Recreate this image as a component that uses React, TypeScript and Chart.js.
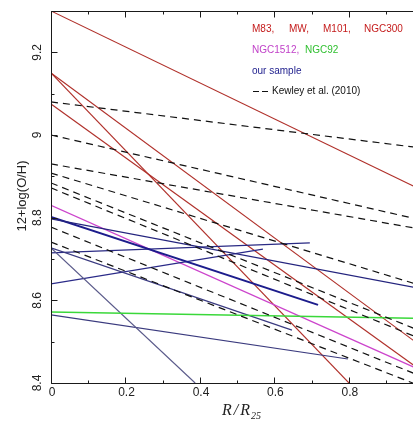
import React, { useEffect, useRef } from 'react';
import { Chart, registerables } from 'chart.js';
Chart.register(...registerables);

const X_TICKS = [0, 0.2, 0.4, 0.6, 0.8];
const X_TICK_LABELS = ['0', '0.2', '0.4', '0.6', '0.8'];
const Y_TICKS = [8.4, 8.6, 8.8, 9.0, 9.2];
const Y_TICK_LABELS = ['8.4', '8.6', '8.8', '9', '9.2'];

// M83, MW, M101, NGC300 (red)
const RED_X0 = [0, 0, 0, 0];
const RED_Y0 = [9.3, 9.15, 9.15, 9.075];
const RED_X1 = [1, 0.8, 1, 1];
const RED_Y1 = [8.865, 8.4, 8.485, 8.426];

// NGC1512 (magenta), NGC92 (green)
const MAGENTA_X = [0, 1];
const MAGENTA_Y = [8.83, 8.428];
const GREEN_X = [0, 1];
const GREEN_Y = [8.572, 8.556];

// our sample (blue)
const BLUE_X0 = [0, 0, 0, 0, 0, 0, 0];
const BLUE_Y0 = [8.797, 8.802, 8.727, 8.727, 8.715, 8.64, 8.565];
const BLUE_X1 = [1, 0.717, 0.647, 0.387, 0.695, 0.569, 0.797];
const BLUE_Y1 = [8.627, 8.589, 8.528, 8.4, 8.739, 8.724, 8.458];
const BLUE_COLORS = ['#24247e', '#1c1c8c', '#3a3a80', '#5a5a8a', '#2a2a84', '#2a2a88', '#3a3a7e'];
const BLUE_WIDTHS = [1.2, 2, 1.2, 1.2, 1.2, 1.2, 1.2];

// Kewley et al. (2010) (dashed black), from R=0 to R=1
const KEWLEY_Y0 = [9.08, 9.0, 8.93, 8.908, 8.884, 8.872, 8.777, 8.741];
const KEWLEY_Y1 = [8.968, 8.793, 8.771, 8.634, 8.523, 8.504, 8.414, 8.39];

const X_MIN = 0;
const X_MAX = 0.972;
const Y_MIN = 8.4;
const Y_MAX = 9.3;

function seg(x0: number, y0: number, x1: number, y1: number) {
  return [{ x: x0, y: y0 }, { x: x1, y: y1 }];
}

const framePlugin = {
  id: 'frame',
  afterDraw(chart: any) {
    const ctx = chart.ctx as CanvasRenderingContext2D;
    const { left, right, top, bottom } = chart.chartArea;
    const xs = chart.scales.x;
    const ys = chart.scales.y;
    ctx.save();
    ctx.strokeStyle = '#1a1a1a';
    ctx.lineWidth = 1;
    const L = Math.round(left) + 0.5;
    const B = Math.round(bottom) + 0.5;
    const T = Math.round(top) + 0.5;
    ctx.beginPath();
    ctx.moveTo(L, T);
    ctx.lineTo(L, B);
    ctx.lineTo(right, B);
    ctx.moveTo(L, T);
    ctx.lineTo(right, T);
    for (let i = 0; i <= 9; i++) {
      const v = Y_MIN + i * 0.1;
      const py = Math.round(ys.getPixelForValue(v)) + 0.5;
      const len = i % 2 === 0 ? 6 : 3;
      ctx.moveTo(L, py);
      ctx.lineTo(L + len, py);
    }
    for (let i = 0; i <= 9; i++) {
      const v = i * 0.1;
      if (v > X_MAX) break;
      const px = Math.round(xs.getPixelForValue(v)) + 0.5;
      const len = i % 2 === 0 ? 6 : 3;
      ctx.moveTo(px, B);
      ctx.lineTo(px, B - len);
      ctx.moveTo(px, T);
      ctx.lineTo(px, T + len);
    }
    ctx.stroke();

    ctx.fillStyle = '#222';
    ctx.font = '12px "Liberation Sans", Arial, sans-serif';
    ctx.textAlign = 'center';
    ctx.textBaseline = 'middle';
    X_TICKS.forEach((v, i) => {
      ctx.fillText(X_TICK_LABELS[i], xs.getPixelForValue(v) + 1, 393);
    });
    Y_TICKS.forEach((v, i) => {
      ctx.save();
      ctx.translate(38, ys.getPixelForValue(v));
      ctx.rotate(-Math.PI / 2);
      ctx.fillText(Y_TICK_LABELS[i], 0, 0);
      ctx.restore();
    });

    ctx.save();
    ctx.font = '13px "Liberation Sans", Arial, sans-serif';
    ctx.translate(22, 196);
    ctx.rotate(-Math.PI / 2);
    ctx.fillText('12+log(O/H)', 0, 0);
    ctx.restore();

    ctx.textAlign = 'left';
    ctx.textBaseline = 'alphabetic';
    ctx.font = 'italic 16px "Liberation Serif", "Times New Roman", serif';
    (ctx as any).letterSpacing = '2px';
    ctx.fillText('R/R', 222, 415);
    const w = ctx.measureText('R/R').width;
    ctx.font = 'italic 10px "Liberation Serif", "Times New Roman", serif';
    (ctx as any).letterSpacing = '0px';
    ctx.fillText('25', 222 + w - 1, 419);

    ctx.font = '10px "Liberation Sans", Arial, sans-serif';
    ctx.textBaseline = 'middle';
    ctx.fillStyle = '#c41a1a';
    ctx.fillText('M83,', 252, 29);
    ctx.fillText('MW,', 289, 29);
    ctx.fillText('M101,', 323, 29);
    ctx.fillText('NGC300', 364, 29);
    ctx.fillStyle = '#c040c8';
    ctx.fillText('NGC1512,', 252, 50);
    ctx.fillStyle = '#30c030';
    ctx.fillText('NGC92', 305, 50);
    ctx.fillStyle = '#1c1c8c';
    ctx.fillText('our sample', 252, 71);
    ctx.fillStyle = '#111';
    ctx.fillText('Kewley et al. (2010)', 272, 91);
    ctx.strokeStyle = '#111';
    ctx.lineWidth = 1.2;
    ctx.setLineDash([6, 3]);
    ctx.beginPath();
    ctx.moveTo(253, 91.5);
    ctx.lineTo(269, 91.5);
    ctx.stroke();
    ctx.restore();
  },
};

export default function App() {
  const ref = useRef<HTMLCanvasElement | null>(null);
  useEffect(() => {
    if (!ref.current) return;
    const datasets: any[] = [];
    KEWLEY_Y0.forEach((y0, i) => {
      datasets.push({
        data: seg(0, y0, 1, KEWLEY_Y1[i]),
        showLine: true,
        borderColor: '#111111',
        borderWidth: 1.2,
        borderDash: [7, 5],
        pointRadius: 0,
      });
    });
    datasets.push({
      data: seg(GREEN_X[0], GREEN_Y[0], GREEN_X[1], GREEN_Y[1]),
      showLine: true,
      borderColor: '#3ad83a',
      borderWidth: 1.5,
      pointRadius: 0,
    });
    BLUE_Y0.forEach((y0, i) => {
      datasets.push({
        data: seg(BLUE_X0[i], y0, BLUE_X1[i], BLUE_Y1[i]),
        showLine: true,
        borderColor: BLUE_COLORS[i],
        borderWidth: BLUE_WIDTHS[i],
        pointRadius: 0,
      });
    });
    datasets.push({
      data: seg(MAGENTA_X[0], MAGENTA_Y[0], MAGENTA_X[1], MAGENTA_Y[1]),
      showLine: true,
      borderColor: '#cc44cc',
      borderWidth: 1.3,
      pointRadius: 0,
    });
    RED_Y0.forEach((y0, i) => {
      datasets.push({
        data: seg(RED_X0[i], y0, RED_X1[i], RED_Y1[i]),
        showLine: true,
        borderColor: '#b0302a',
        borderWidth: 1.1,
        pointRadius: 0,
      });
    });

    const chart = new Chart(ref.current, {
      type: 'scatter',
      data: { datasets },
      options: {
        animation: false,
        responsive: false,
        maintainAspectRatio: false,
        events: [],
        layout: { padding: { top: 11, left: 0, right: 0, bottom: 0 } },
        plugins: { legend: { display: false }, tooltip: { enabled: false }, title: { display: false } },
        scales: {
          x: {
            type: 'linear',
            min: X_MIN,
            max: X_MAX,
            grid: { display: false },
            border: { display: false },
            ticks: { display: false },
            afterFit: (s: any) => { s.height = 40; },
          },
          y: {
            type: 'linear',
            min: Y_MIN,
            max: Y_MAX,
            grid: { display: false },
            border: { display: false },
            ticks: { display: false },
            afterFit: (s: any) => { s.width = 51; },
          },
        },
      },
      plugins: [framePlugin],
    });
    return () => chart.destroy();
  }, []);
  return (
    <div style={{ position: 'absolute', left: 0, top: 0, width: 413, height: 423, background: '#fff' }}>
      <canvas ref={ref} width={413} height={423} style={{ width: 413, height: 423, display: 'block' }} />
    </div>
  );
}
